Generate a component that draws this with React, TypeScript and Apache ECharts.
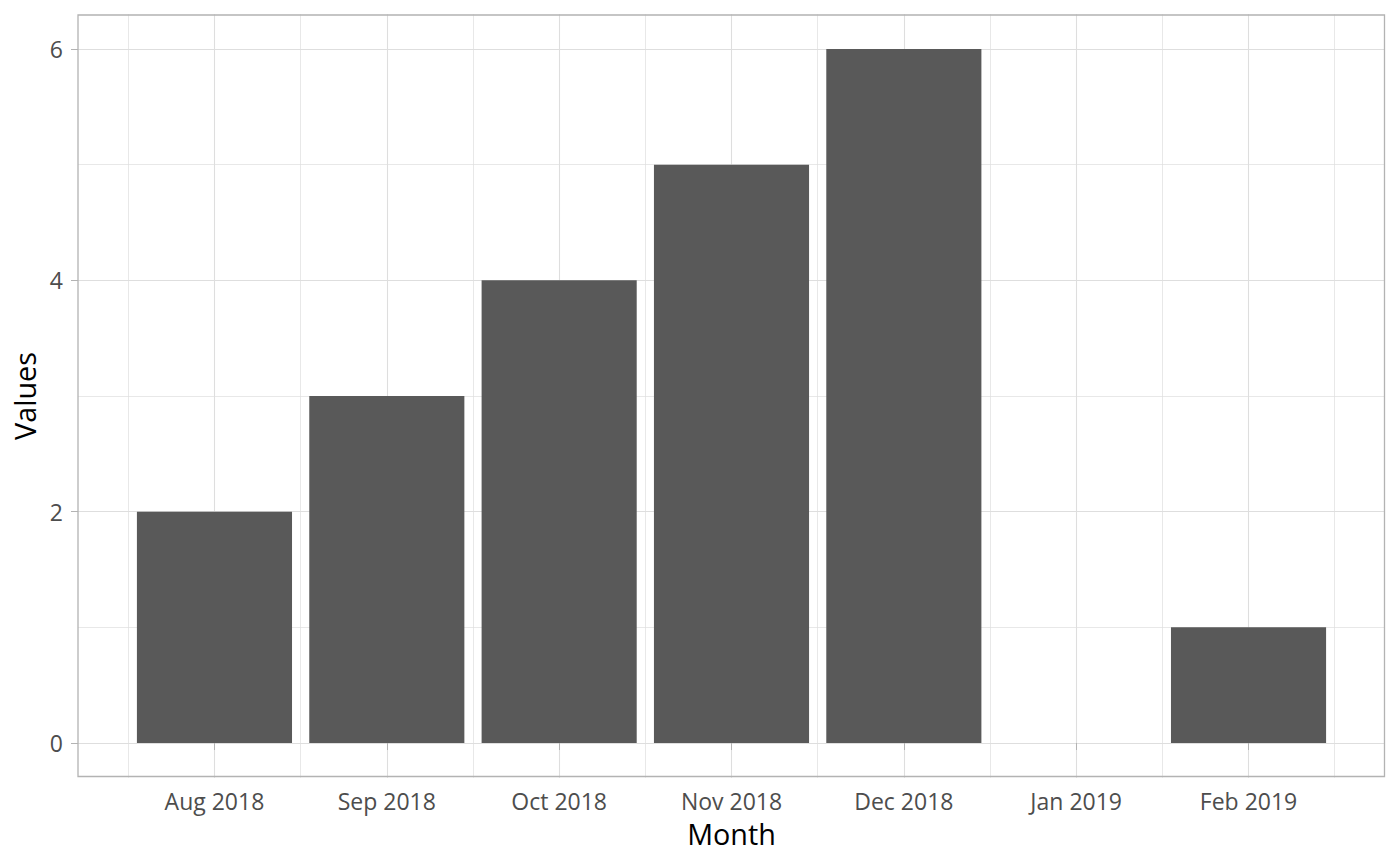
import React, { useEffect, useRef } from "react";
import * as echarts from "echarts";

const months = ["Aug 2018", "Sep 2018", "Oct 2018", "Nov 2018", "Dec 2018", "Jan 2019", "Feb 2019"];
const values: (number | null)[] = [2, 3, 4, 5, 6, null, 1];
const yMin = 0;
const yMax = 6;
const yStep = 2;

const FONT = "Open Sans";
const GRID = "#DEDEDE";
const BORDER = "#B3B3B3";
const AXIS_TEXT = "#4D4D4D";

export default function App() {
  const ref = useRef<HTMLDivElement>(null);
  useEffect(() => {
    document.body.style.margin = "0";
    if (!ref.current) return;
    const chart = echarts.init(ref.current, undefined, { renderer: "svg" });
    chart.setOption({
      animation: false,
      backgroundColor: "#FFFFFF",
      textStyle: { fontFamily: FONT },
      grid: [
        { left: 78, right: 15.5, top: 49, bottom: 123 },
        { left: 128.3, right: 65.3, top: 14.3, bottom: 88.3 },
      ],
      xAxis: [
        { type: "value", gridIndex: 0, min: 0, max: 1, show: false },
        {
          type: "category",
          gridIndex: 1,
          data: months,
          boundaryGap: true,
          axisLine: { show: false },
          axisTick: { show: true, alignWithLabel: true, length: 7, lineStyle: { color: BORDER, width: 1 } },
          axisLabel: { color: AXIS_TEXT, fontSize: 23, fontFamily: FONT, margin: 12 },
          splitLine: { show: false },
          name: "Month",
          nameLocation: "middle",
          nameGap: 41,
          nameTextStyle: { color: "#000000", fontSize: 28.75, fontFamily: FONT },
        },
        {
          type: "value",
          gridIndex: 1,
          min: 0,
          max: months.length,
          interval: 1,
          axisLine: { show: false },
          axisTick: { show: false },
          axisLabel: { show: false },
          splitLine: { show: true, lineStyle: { color: GRID, width: 0.7 } },
          minorTick: { show: false, splitNumber: 2 },
          minorSplitLine: { show: true, lineStyle: { color: GRID, width: 1.1 } },
        },
      ],
      yAxis: [
        {
          type: "value",
          gridIndex: 0,
          min: yMin,
          max: yMax,
          interval: yStep,
          axisLine: { show: false },
          axisTick: { show: true, length: 7, lineStyle: { color: BORDER, width: 1 } },
          axisLabel: { color: AXIS_TEXT, fontSize: 23, fontFamily: FONT, margin: 15 },
          splitLine: { show: true, lineStyle: { color: GRID, width: 1.1 } },
          minorTick: { show: false, splitNumber: 2 },
          minorSplitLine: { show: true, lineStyle: { color: GRID, width: 0.7 } },
          name: "Values",
          nameLocation: "middle",
          nameRotate: 90,
          nameGap: 37,
          nameTextStyle: { color: "#000000", fontSize: 28.75, fontFamily: FONT },
        },
        { type: "value", gridIndex: 1, min: -0.3, max: 6.3, show: false },
      ],
      series: [
        {
          type: "bar",
          xAxisIndex: 1,
          yAxisIndex: 1,
          data: values,
          barWidth: "90%",
          itemStyle: { color: "#595959" },
          silent: true,
        },
      ],
      graphic: [
        {
          type: "rect",
          shape: { x: 78, y: 15, width: 1306.5, height: 761.5 },
          style: { fill: "none", stroke: BORDER, lineWidth: 1.3 },
          z: 100,
          silent: true,
        },
      ],
    });
    return () => chart.dispose();
  }, []);
  return <div ref={ref} style={{ width: 1400, height: 866 }} />;
}
